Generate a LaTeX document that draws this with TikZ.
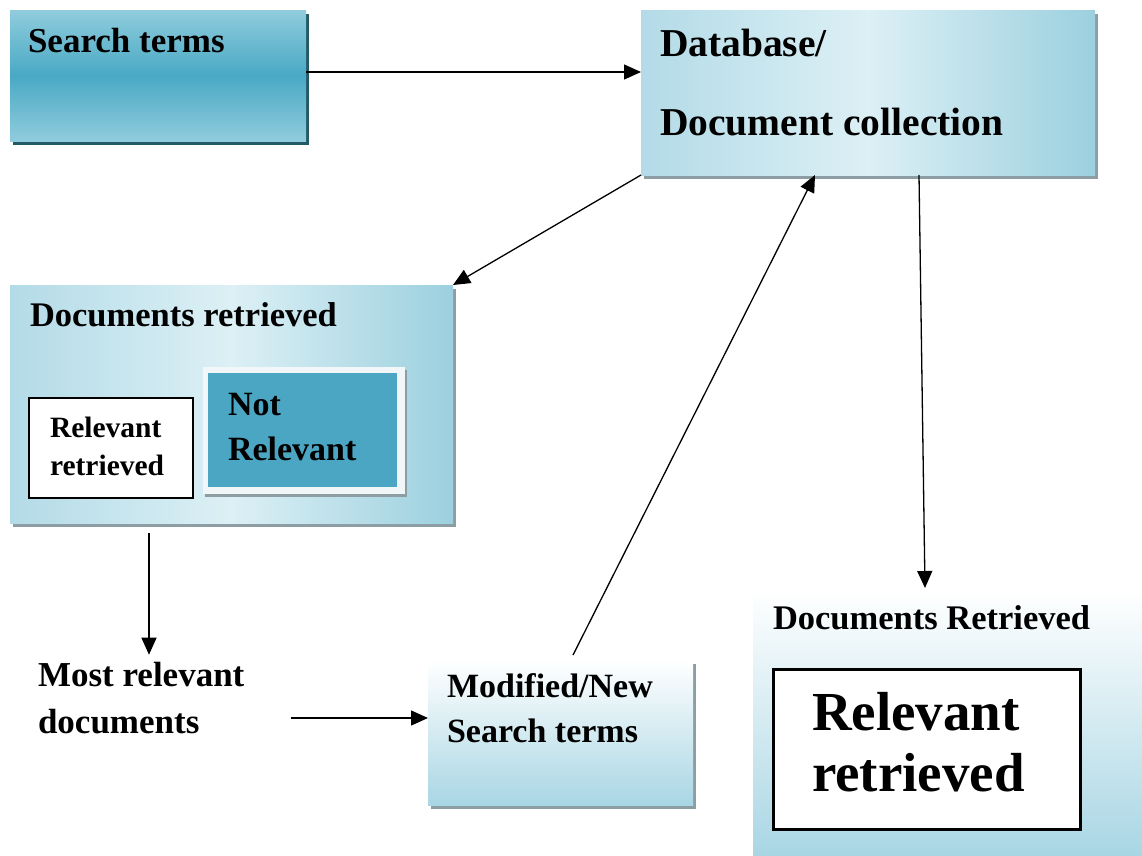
\documentclass[tikz,border=0pt]{standalone}
\usepackage{fontspec}
\setmainfont{Liberation Serif}
\usetikzlibrary{shadows,arrows.meta}

\definecolor{tealdark}{HTML}{235A66}
\definecolor{shadowgray}{HTML}{8C9DA4}
\definecolor{tealmid}{HTML}{49A9C4}
\definecolor{teallight}{HTML}{90CCDD}
\definecolor{paleleft}{HTML}{B3DBE7}
\definecolor{palemid}{HTML}{DCF0F5}
\definecolor{paleright}{HTML}{9CD0DF}
\definecolor{palebottom}{HTML}{A9D6E4}
\definecolor{notrel}{HTML}{4AA6C3}
\definecolor{framewhite}{HTML}{F1F7F9}

\begin{document}
\begin{tikzpicture}[x=1pt,y=-1pt,
  box/.style={draw=none, inner sep=0pt, outer sep=0pt, anchor=north west},
  grayshadow/.style={drop shadow={shadow xshift=3pt, shadow yshift=-4pt, fill=shadowgray, opacity=1}},
  darkshadow/.style={drop shadow={shadow xshift=3pt, shadow yshift=-4pt, fill=tealdark, opacity=1}},
  lbl/.style={anchor=base west, inner sep=0pt, outer sep=0pt},
  arr/.style={line width=1.3pt, -{Triangle[length=17pt,width=15pt]}}
]
\useasboundingbox (0,0) rectangle (1142,855);
\fill[white] (0,0) rectangle (1142,855);

% ---- boxes ----
\node[box, darkshadow, top color=teallight, bottom color=teallight, middle color=tealmid,
      minimum width=296pt, minimum height=131pt] (st) at (10,10) {};
\node[box, grayshadow, left color=paleleft, right color=paleright, middle color=palemid,
      minimum width=454pt, minimum height=165pt] (db) at (641,10) {};
\node[box, grayshadow, left color=paleleft, right color=paleright, middle color=palemid,
      minimum width=443pt, minimum height=238pt] (dr) at (10,285) {};
\node[box, drop shadow={shadow xshift=2pt, shadow yshift=-3pt, fill=shadowgray, opacity=1},
      fill=framewhite, minimum width=202pt, minimum height=127pt] (nrf) at (203,367) {};
\node[box, fill=notrel, minimum width=189pt, minimum height=114pt] (nr) at (208,373) {};
\node[box, fill=white, draw=black, line width=1.5pt,
      minimum width=164pt, minimum height=100pt] (rr) at (29,398) {};
\node[box, grayshadow, top color=white, bottom color=palebottom,
      minimum width=265pt, minimum height=145pt] (mod) at (428,660) {};
\node[box, top color=white, bottom color=palebottom,
      minimum width=389pt, minimum height=265pt] (dR) at (753,590) {};
\node[box, fill=white, draw=black, line width=3pt,
      minimum width=307pt, minimum height=160pt] (rb) at (773,669) {};

% ---- labels ----
\node[lbl, font={\fontsize{35}{42}\selectfont\bfseries}] (tst) at (28,52) {Search terms};
\node[lbl, font={\fontsize{39.5}{46}\selectfont\bfseries}] (tdb1) at (660,56) {Database/};
\node[lbl, font={\fontsize{39.5}{46}\selectfont\bfseries}] (tdb2) at (660,135) {Document collection};
\node[lbl, font={\fontsize{34.5}{41}\selectfont\bfseries}] (tdr) at (30,326) {Documents retrieved};
\node[lbl, font={\fontsize{29.5}{35}\selectfont\bfseries}] (trr1) at (50,437) {Relevant};
\node[lbl, font={\fontsize{29.5}{35}\selectfont\bfseries}] (trr2) at (50,475) {retrieved};
\node[lbl, font={\fontsize{34}{41}\selectfont\bfseries}] (tnr1) at (228,415) {Not};
\node[lbl, font={\fontsize{34}{41}\selectfont\bfseries}] (tnr2) at (228,460) {Relevant};
\node[lbl, font={\fontsize{35}{42}\selectfont\bfseries}] (mr1) at (38,686) {Most relevant};
\node[lbl, font={\fontsize{35}{42}\selectfont\bfseries}] (mr2) at (38,733) {documents};
\node[lbl, font={\fontsize{34}{41}\selectfont\bfseries}] (tmod1) at (447,697) {Modified/New};
\node[lbl, font={\fontsize{34}{41}\selectfont\bfseries}] (tmod2) at (447,742) {Search terms};
\node[lbl, font={\fontsize{34.5}{41}\selectfont\bfseries}] (tdR) at (773,629) {Documents Retrieved};
\node[lbl, font={\fontsize{55}{66}\selectfont\bfseries}] (trb1) at (812,730) {Relevant};
\node[lbl, font={\fontsize{55}{66}\selectfont\bfseries}] (trb2) at (812,791) {retrieved};

% ---- connectors ----
\path ([yshift=3.5pt]st.east) coordinate (a0);
\draw[arr] (a0) -- (a0 -| db.west);

\draw[arr] (db.south west) -- (dr.north east);

\draw[arr] ([xshift=51pt]db.south) -- ([xshift=-22.5pt,yshift=2pt]dR.north);

\path ([xshift=-82.5pt,yshift=-10pt]dr.south) coordinate (d0);
\path (d0 |- mr1.north) ++(0,-7) coordinate (d1);
\draw[arr] (d0) -- (d1);

\path ([yshift=14.5pt]mod.west) coordinate (e1);
\path (mr1.east |- e1) ++(47,0) coordinate (e0);
\draw[arr] (e0) -- (e1);

\draw[arr] ([xshift=12.5pt,yshift=5pt]mod.north) -- ([xshift=-53pt]db.south);
\end{tikzpicture}
\end{document}
